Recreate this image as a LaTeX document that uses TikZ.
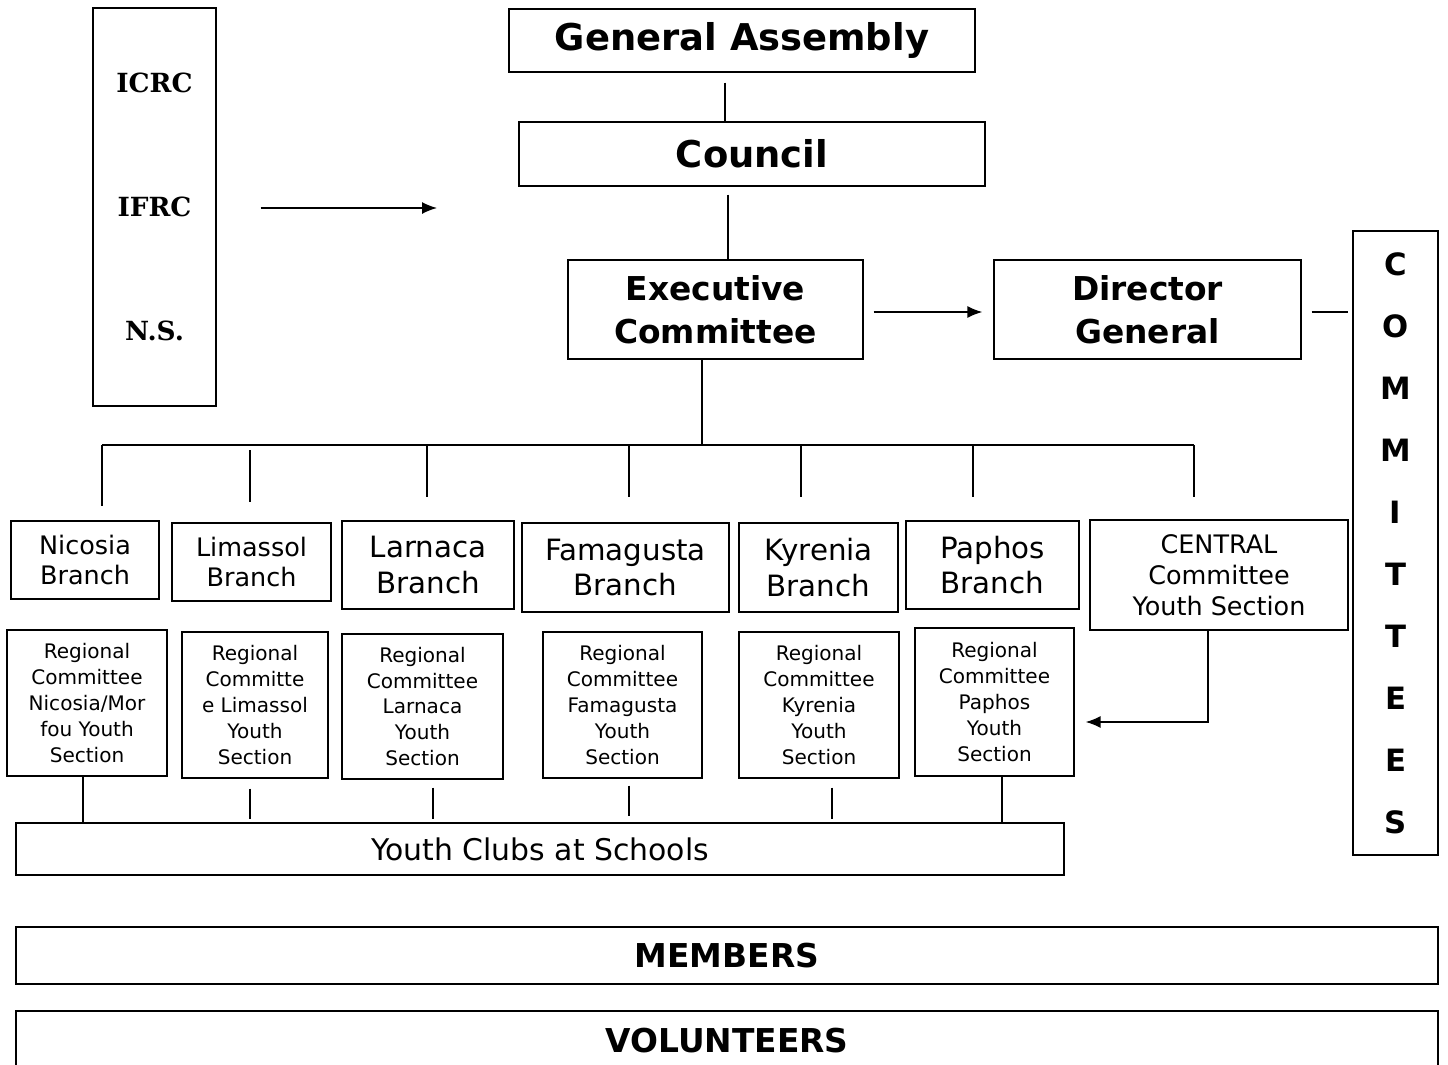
\documentclass[tikz,border=0pt]{standalone}
\usepackage{fontspec}
\setmainfont{DejaVu Sans}
\newfontfamily\intlfont{DejaVu Serif}
\usetikzlibrary{arrows.meta}
\newcommand{\setfs}[2]{\fontsize{#1pt}{#2pt}\selectfont}
\tikzset{
  box/.style={draw, inner sep=0pt, align=center},
  head/.style={font=\bfseries\setfs{21}{25}},
  chief/.style={font=\bfseries\setfs{18.7}{24.4}},
  branch/.style={font=\setfs{16.7}{20}},
  smallbranch/.style={font=\setfs{14.5}{17.5}},
  regional/.style={font=\setfs{11.4}{14.7}},
  >={Latex[length=3mm,width=2.4mm]}
}
\begin{document}
\begin{tikzpicture}[x=0.02cm,y=-0.02cm,line width=0.8pt]
\useasboundingbox (0,0) rectangle (1448,1065);
% international movement
\node[box, minimum width=2.46cm, minimum height=7.96cm,
  font=\intlfont\bfseries\setfs{15}{70.6}] (intl) at (154.5,207) {ICRC\\IFRC\\N.S.};
\coordinate (intlto) at (437,208);
\draw [->, shorten <=0.88cm] (intl.east |- intlto) -- (intlto);
%
\node[box, head, minimum width=9.32cm, minimum height=1.26cm] (ga) at (742,40.5) {General Assembly};
\node[box, head, minimum width=9.32cm, minimum height=1.28cm] (council) at (752,154) {Council};
\node[box, chief, minimum width=5.9cm, minimum height=1.98cm] (exec) at (715.5,309.5) {Executive\\Committee};
\node[box, chief, minimum width=6.14cm, minimum height=1.98cm] (dg) at (1147.5,309.5) {Director\\General};
\node[box, minimum width=1.7cm, minimum height=12.48cm,
  font=\bfseries\setfs{17.5}{35.3}] (comm) at (1395.5,543) {C\\O\\M\\M\\I\\T\\T\\E\\E\\S};
\draw [shorten <=0.2cm] (725,0 |- ga.south) -- (725,0 |- council.north);
\draw [shorten <=0.16cm] (728,0 |- council.south) -- (728,0 |- exec.north);
\draw [->, shorten <=0.2cm, shorten >=0.22cm] ([yshift=-0.05cm]exec.east) -- ([yshift=-0.05cm]dg.west);
\draw [shorten <=0.2cm, shorten >=0.08cm] ([yshift=-0.05cm]dg.east) -- ([yshift=-0.05cm]comm.west |- dg.east);
%
% branches
\node[box, smallbranch, minimum width=2.96cm, minimum height=1.56cm] (nic) at (85,560) {Nicosia\\Branch};
\node[box, smallbranch, minimum width=3.18cm, minimum height=1.56cm] (lim) at (251.5,562) {Limassol\\Branch};
\node[box, branch, minimum width=3.44cm, minimum height=1.76cm] (lar) at (428,565) {Larnaca\\Branch};
\node[box, branch, minimum width=4.14cm, minimum height=1.78cm] (fam) at (625.5,567.5) {Famagusta\\Branch};
\node[box, branch, minimum width=3.18cm, minimum height=1.78cm] (kyr) at (818.5,567.5) {Kyrenia\\Branch};
\node[box, branch, minimum width=3.46cm, minimum height=1.76cm] (pap) at (992.5,565) {Paphos\\Branch};
\node[box, smallbranch, minimum width=5.16cm, minimum height=2.2cm] (cen) at (1219,575) {CENTRAL\\Committee\\Youth Section};
%
\draw (702,0 |- exec.south) -- (702,445);
\draw (102,445) -- (1194,445);
\draw [shorten >=0.28cm] (102,445) -- (102,0 |- nic.north);
\draw [shorten <=0.1cm, shorten >=0.4cm] (250,445) -- (250,0 |- lim.north);
\draw [shorten >=0.46cm] (427,445) -- (427,0 |- lar.north);
\draw [shorten >=0.5cm] (629,445) -- (629,0 |- fam.north);
\draw [shorten >=0.5cm] (801,445) -- (801,0 |- kyr.north);
\draw [shorten >=0.46cm] (973,445) -- (973,0 |- pap.north);
\draw [shorten >=0.44cm] (1194,445) -- (1194,0 |- cen.north);
%
% youth sections
\node[box, regional, minimum width=3.2cm, minimum height=2.92cm] (rnic) at (87,703) {Regional\\Committee\\Nicosia/Mor\\fou Youth\\Section};
\node[box, regional, minimum width=2.92cm, minimum height=2.92cm] (rlim) at (255,705) {Regional\\Committe\\e Limassol\\Youth\\Section};
\node[box, regional, minimum width=3.22cm, minimum height=2.9cm] (rlar) at (422.5,706.5) {Regional\\Committee\\Larnaca\\Youth\\Section};
\node[box, regional, minimum width=3.18cm, minimum height=2.92cm] (rfam) at (622.5,705) {Regional\\Committee\\Famagusta\\Youth\\Section};
\node[box, regional, minimum width=3.2cm, minimum height=2.92cm] (rkyr) at (819,705) {Regional\\Committee\\Kyrenia\\Youth\\Section};
\node[box, regional, minimum width=3.18cm, minimum height=2.96cm] (rpap) at (994.5,702) {Regional\\Committee\\Paphos\\Youth\\Section};
\draw [->, shorten >=0.22cm] (1208,0 |- cen.south) |- ([yshift=-0.4cm]rpap.east);
%
\node[box, font=\setfs{17}{20}, minimum width=20.96cm, minimum height=1.04cm] (clubs) at (540,849) {Youth Clubs at Schools};
\draw (83,0 |- rnic.south) -- (83,0 |- clubs.north);
\draw [shorten <=0.2cm, shorten >=0.06cm] (250,0 |- rlim.south) -- (250,0 |- clubs.north);
\draw [shorten <=0.16cm, shorten >=0.06cm] (433,0 |- rlar.south) -- (433,0 |- clubs.north);
\draw [shorten <=0.14cm, shorten >=0.12cm] (629,0 |- rfam.south) -- (629,0 |- clubs.north);
\draw [shorten <=0.18cm, shorten >=0.06cm] (832,0 |- rkyr.south) -- (832,0 |- clubs.north);
\draw (1002,0 |- rpap.south) -- (1002,0 |- clubs.north);
%
\node[box, font=\bfseries\setfs{18.7}{22}, minimum width=28.44cm, minimum height=1.14cm] (mem) at (727,955.5) {MEMBERS};
\node[box, font=\bfseries\setfs{18.7}{22}, minimum width=28.44cm, minimum height=1.2cm] (vol) at (727,1041) {VOLUNTEERS};
\end{tikzpicture}
\end{document}
